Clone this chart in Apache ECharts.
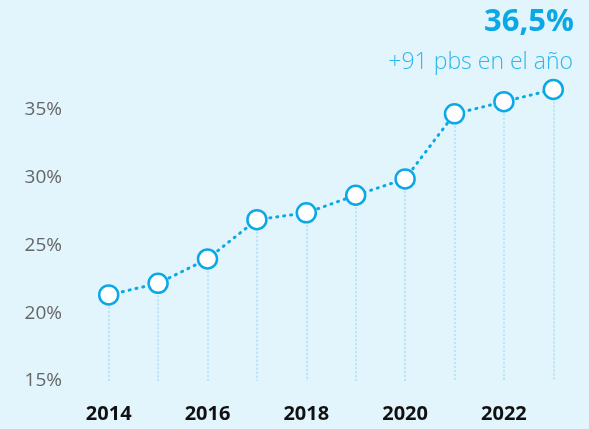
<!DOCTYPE html>
<html><head><meta charset="utf-8">
<script src="https://cdn.jsdelivr.net/npm/echarts@6/dist/echarts.min.js"></script>
<style>html,body{margin:0;padding:0;background:#e2f4fc;}#c{width:589px;height:429px;}</style>
</head><body><div id="c"></div>
<script>
const years = ['2014','2015','2016','2017','2018','2019','2020','2021','2022','2023'];
const values = [21.35, 22.2, 24.0, 26.9, 27.4, 28.7, 29.9, 34.7, 35.6, 36.5];
const headline = '36,5%';
const subline = '+91 pbs en el año';
const yMin = 15, yMax = 40, yStep = 5;

const chart = echarts.init(document.getElementById('c'), null, {renderer:'canvas'});
const dropLines = values.map((v,i)=>[{coord:[i, v]}, {coord:[i, yMin]}]);
chart.setOption({
  backgroundColor:'#e2f4fc',
  animation:false,
  textStyle:{fontFamily:'Open Sans'},
  title:[
    {text:headline, right:10, top:2, textStyle:{fontFamily:'Open Sans', fontSize:31, fontWeight:'bold', color:'#0aa8e6'}},
    {text:subline, right:11, top:46, textStyle:{fontFamily:'Open Sans', fontSize:23, fontWeight:300, color:'#2fb6ee'}}
  ],
  grid:{left:84, right:11, top:42, bottom:48},
  xAxis:{type:'category', data:years, boundaryGap:true,
    axisLine:{show:false}, axisTick:{show:false}, splitLine:{show:false},
    axisLabel:{interval:1, margin:23, fontSize:20, fontWeight:'bold', color:'#111', fontFamily:'Open Sans'}},
  yAxis:{type:'value', min:yMin, max:yMax, interval:yStep,
    axisLine:{show:false}, axisTick:{show:false}, splitLine:{show:false},
    axisLabel:{showMaxLabel:false, margin:22, fontSize:19, fontWeight:'normal', color:'#666666', fontFamily:'Open Sans', formatter:'{value}%'}},
  series:[{
    type:'line', data:values, symbol:'circle', symbolSize:19,
    lineStyle:{color:'#0aa8e6', width:3, type:[1,6], cap:'round'},
    itemStyle:{color:'#ffffff', borderColor:'#0aa8e6', borderWidth:2.5},
    z:5,
    markLine:{silent:true, symbol:'none', label:{show:false}, animation:false,
      lineStyle:{color:'rgba(140,212,242,0.5)', width:2, type:[2,2]},
      data:dropLines, z:1}
  }]
});
</script></body></html>
